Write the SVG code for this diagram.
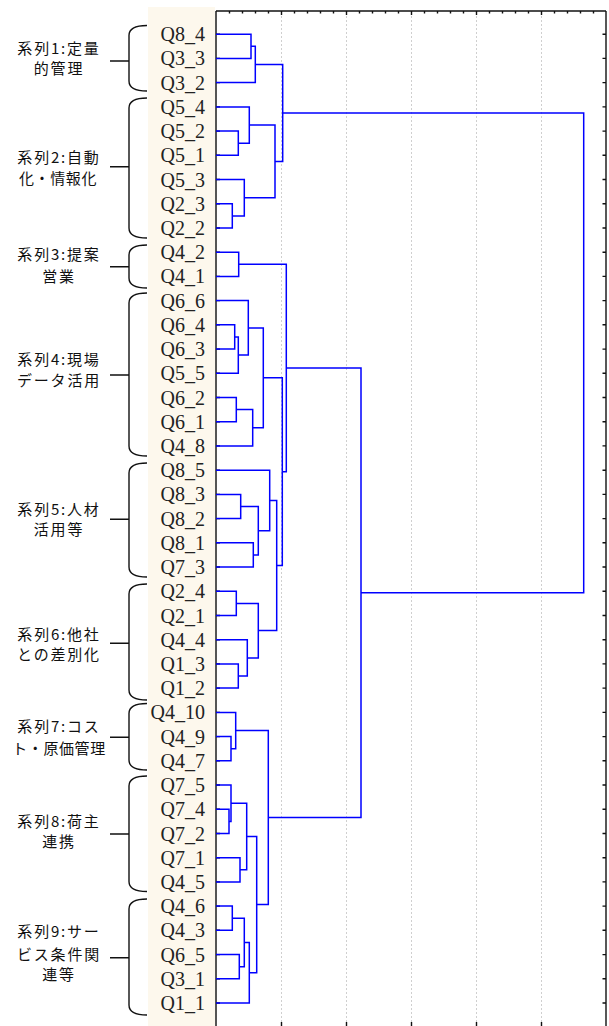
<svg xmlns="http://www.w3.org/2000/svg" width="609" height="1026" viewBox="0 0 609 1026">
<style>
.leaf{font-family:"Liberation Serif","Times New Roman",serif;font-size:20px;fill:#222;text-anchor:end}
.lab{font-family:"Noto Sans CJK JP","Noto Sans",sans-serif;font-size:15px;letter-spacing:1.8px;fill:#111;text-anchor:middle}
.tight{letter-spacing:0.6px}
.brace{fill:none;stroke:#111;stroke-width:1.4}
.den path{fill:none;stroke:#0000ff;stroke-width:1.5}
.grid{stroke:#cfcfcf;stroke-width:1;stroke-dasharray:2 2}
.ax{stroke:#111;stroke-width:1.4;fill:none}
</style>
<rect x="0" y="0" width="609" height="1026" fill="#ffffff"/>
<rect x="148" y="7" width="67" height="1019" fill="#fdf8ed"/>

<g id="grid">
<line class="grid" x1="281.5" y1="12" x2="281.5" y2="1026"/>
<line class="grid" x1="346.5" y1="12" x2="346.5" y2="1026"/>
<line class="grid" x1="411.5" y1="12" x2="411.5" y2="1026"/>
<line class="grid" x1="476.5" y1="12" x2="476.5" y2="1026"/>
<line class="grid" x1="541.5" y1="12" x2="541.5" y2="1026"/>
</g>

<g id="axes">
<line x1="216" y1="11" x2="216" y2="1026" stroke="#555" stroke-width="2"/>
<line class="ax" x1="216" y1="11" x2="606" y2="11"/>
<line class="ax" x1="606" y1="11" x2="606" y2="1026"/>
<path class="ax" stroke-width="1" d="M229.5,11v2.5M242.5,11v2.5M255.5,11v2.5M268.5,11v2.5M281.5,11v4M294.5,11v2.5M307.5,11v2.5M320.5,11v2.5M333.5,11v2.5M346.5,11v4M359.5,11v2.5M372.5,11v2.5M385.5,11v2.5M398.5,11v2.5M411.5,11v4M424.5,11v2.5M437.5,11v2.5M450.5,11v2.5M463.5,11v2.5M476.5,11v4M489.5,11v2.5M502.5,11v2.5M515.5,11v2.5M528.5,11v2.5M541.5,11v4M554.5,11v2.5M567.5,11v2.5M580.5,11v2.5M593.5,11v2.5"/>
<path class="ax" stroke-width="1" d="M281.5,1026v-4M346.5,1026v-4M411.5,1026v-4M476.5,1026v-4M541.5,1026v-4"/>
<path class="ax" stroke-width="1.2" d="M216,34.2h4M216,58.4h4M216,82.6h4M216,106.9h4M216,131.1h4M216,155.3h4M216,179.5h4M216,203.7h4M216,228h4M216,252.2h4M216,276.4h4M216,300.6h4M216,324.8h4M216,349.1h4M216,373.3h4M216,397.5h4M216,421.7h4M216,445.9h4M216,470.2h4M216,494.4h4M216,518.6h4M216,542.8h4M216,567h4M216,591.3h4M216,615.5h4M216,639.7h4M216,663.9h4M216,688.1h4M216,712.4h4M216,736.6h4M216,760.8h4M216,785h4M216,809.2h4M216,833.5h4M216,857.7h4M216,881.9h4M216,906.1h4M216,930.3h4M216,954.6h4M216,978.8h4M216,1003h4"/>
<path class="ax" stroke-width="1.2" d="M606,34.2h-3.5M606,58.4h-3.5M606,82.6h-3.5M606,106.9h-3.5M606,131.1h-3.5M606,155.3h-3.5M606,179.5h-3.5M606,203.7h-3.5M606,228h-3.5M606,252.2h-3.5M606,276.4h-3.5M606,300.6h-3.5M606,324.8h-3.5M606,349.1h-3.5M606,373.3h-3.5M606,397.5h-3.5M606,421.7h-3.5M606,445.9h-3.5M606,470.2h-3.5M606,494.4h-3.5M606,518.6h-3.5M606,542.8h-3.5M606,567h-3.5M606,591.3h-3.5M606,615.5h-3.5M606,639.7h-3.5M606,663.9h-3.5M606,688.1h-3.5M606,712.4h-3.5M606,736.6h-3.5M606,760.8h-3.5M606,785h-3.5M606,809.2h-3.5M606,833.5h-3.5M606,857.7h-3.5M606,881.9h-3.5M606,906.1h-3.5M606,930.3h-3.5M606,954.6h-3.5M606,978.8h-3.5M606,1003h-3.5"/>
</g>

<g id="connectors" class="den">
<path d="M216,34.2H251V58.4H216"/>
<path d="M251,46.3H255.3V82.6H216"/>
<path d="M216,131.1H238.3V155.3H216"/>
<path d="M216,106.9H249.3V143.2H238.3"/>
<path d="M216,203.7H232.3V228H216"/>
<path d="M216,179.5H244.3V215.9H232.3"/>
<path d="M249.3,125H275V197.7H244.3"/>
<path d="M255.3,64.5H282.7V161.4H275"/>
<path d="M216,252.2H238.7V276.4H216"/>
<path d="M216,324.8H234.7V349.1H216"/>
<path d="M234.7,337H238.3V373.3H216"/>
<path d="M216,300.6H248.3V355.1H238.3"/>
<path d="M216,397.5H236.3V421.7H216"/>
<path d="M236.3,409.6H252.7V445.9H216"/>
<path d="M248.3,327.9H263.3V427.8H252.7"/>
<path d="M216,494.4H240.7V518.6H216"/>
<path d="M216,542.8H253.3V567H216"/>
<path d="M240.7,506.5H258.3V554.9H253.3"/>
<path d="M216,470.2H269.7V530.7H258.3"/>
<path d="M216,591.3H236.3V615.5H216"/>
<path d="M216,663.9H238.3V688.1H216"/>
<path d="M216,639.7H247.3V676H238.3"/>
<path d="M236.3,603.4H258.3V657.9H247.3"/>
<path d="M269.7,500.4H276.7V630.6H258.3"/>
<path d="M263.3,377.8H282.3V565.5H276.7"/>
<path d="M238.7,264.3H286.3V471.7H282.3"/>
<path d="M216,736.6H231V760.8H216"/>
<path d="M216,712.4H235.7V748.7H231"/>
<path d="M216,809.2H229V833.5H216"/>
<path d="M216,785H231V821.4H229"/>
<path d="M216,857.7H240V881.9H216"/>
<path d="M231,803.2H246.7V869.8H240"/>
<path d="M216,906.1H232.3V930.3H216"/>
<path d="M216,954.6H239.3V978.8H216"/>
<path d="M232.3,918.2H244.3V966.7H239.3"/>
<path d="M244.3,942.5H249.3V1003H216"/>
<path d="M246.7,836.5H256.7V972.7H249.3"/>
<path d="M235.7,730.5H268.3V904.6H256.7"/>
<path d="M286.3,368H361V817.6H268.3"/>
<path d="M282.7,112.9H583.7V592.8H361"/>
</g>

<g id="leaves">
<g id="leaf-Q8_4"><text class="leaf" x="205" y="41.2">Q8_4</text></g>
<g id="leaf-Q3_3"><text class="leaf" x="205" y="65.4">Q3_3</text></g>
<g id="leaf-Q3_2"><text class="leaf" x="205" y="89.6">Q3_2</text></g>
<g id="leaf-Q5_4"><text class="leaf" x="205" y="113.9">Q5_4</text></g>
<g id="leaf-Q5_2"><text class="leaf" x="205" y="138.1">Q5_2</text></g>
<g id="leaf-Q5_1"><text class="leaf" x="205" y="162.3">Q5_1</text></g>
<g id="leaf-Q5_3"><text class="leaf" x="205" y="186.5">Q5_3</text></g>
<g id="leaf-Q2_3"><text class="leaf" x="205" y="210.7">Q2_3</text></g>
<g id="leaf-Q2_2"><text class="leaf" x="205" y="235">Q2_2</text></g>
<g id="leaf-Q4_2"><text class="leaf" x="205" y="259.2">Q4_2</text></g>
<g id="leaf-Q4_1"><text class="leaf" x="205" y="283.4">Q4_1</text></g>
<g id="leaf-Q6_6"><text class="leaf" x="205" y="307.6">Q6_6</text></g>
<g id="leaf-Q6_4"><text class="leaf" x="205" y="331.8">Q6_4</text></g>
<g id="leaf-Q6_3"><text class="leaf" x="205" y="356.1">Q6_3</text></g>
<g id="leaf-Q5_5"><text class="leaf" x="205" y="380.3">Q5_5</text></g>
<g id="leaf-Q6_2"><text class="leaf" x="205" y="404.5">Q6_2</text></g>
<g id="leaf-Q6_1"><text class="leaf" x="205" y="428.7">Q6_1</text></g>
<g id="leaf-Q4_8"><text class="leaf" x="205" y="452.9">Q4_8</text></g>
<g id="leaf-Q8_5"><text class="leaf" x="205" y="477.2">Q8_5</text></g>
<g id="leaf-Q8_3"><text class="leaf" x="205" y="501.4">Q8_3</text></g>
<g id="leaf-Q8_2"><text class="leaf" x="205" y="525.6">Q8_2</text></g>
<g id="leaf-Q8_1"><text class="leaf" x="205" y="549.8">Q8_1</text></g>
<g id="leaf-Q7_3"><text class="leaf" x="205" y="574">Q7_3</text></g>
<g id="leaf-Q2_4"><text class="leaf" x="205" y="598.3">Q2_4</text></g>
<g id="leaf-Q2_1"><text class="leaf" x="205" y="622.5">Q2_1</text></g>
<g id="leaf-Q4_4"><text class="leaf" x="205" y="646.7">Q4_4</text></g>
<g id="leaf-Q1_3"><text class="leaf" x="205" y="670.9">Q1_3</text></g>
<g id="leaf-Q1_2"><text class="leaf" x="205" y="695.1">Q1_2</text></g>
<g id="leaf-Q4_10"><text class="leaf" x="205" y="719.4">Q4_10</text></g>
<g id="leaf-Q4_9"><text class="leaf" x="205" y="743.6">Q4_9</text></g>
<g id="leaf-Q4_7"><text class="leaf" x="205" y="767.8">Q4_7</text></g>
<g id="leaf-Q7_5"><text class="leaf" x="205" y="792">Q7_5</text></g>
<g id="leaf-Q7_4"><text class="leaf" x="205" y="816.2">Q7_4</text></g>
<g id="leaf-Q7_2"><text class="leaf" x="205" y="840.5">Q7_2</text></g>
<g id="leaf-Q7_1"><text class="leaf" x="205" y="864.7">Q7_1</text></g>
<g id="leaf-Q4_5"><text class="leaf" x="205" y="888.9">Q4_5</text></g>
<g id="leaf-Q4_6"><text class="leaf" x="205" y="913.1">Q4_6</text></g>
<g id="leaf-Q4_3"><text class="leaf" x="205" y="937.3">Q4_3</text></g>
<g id="leaf-Q6_5"><text class="leaf" x="205" y="961.6">Q6_5</text></g>
<g id="leaf-Q3_1"><text class="leaf" x="205" y="985.8">Q3_1</text></g>
<g id="leaf-Q1_1"><text class="leaf" x="205" y="1010">Q1_1</text></g>
</g>

<g id="series1">
<path class="brace" d="M147,25.5C136,25.5 129,28.5 129,35.5V81C129,88 136,91 147,91M110,61H129"/>
<text class="lab" x="59" y="53.8">系列1:定量</text>
<text class="lab" x="59" y="73.8">的管理</text>
</g>
<g id="series2">
<path class="brace" d="M147,98C136,98 129,101 129,108V228C129,235 136,238 147,238M110,166.7H129"/>
<text class="lab" x="59" y="163">系列2:自動</text>
<text class="lab tight" x="58" y="183.8">化・情報化</text>
</g>
<g id="series3">
<path class="brace" d="M147,245C136,245 129,248 129,255V278C129,285 136,288 147,288M110,266.7H129"/>
<text class="lab" x="59" y="259.5">系列3:提案</text>
<text class="lab" x="59" y="281.5">営業</text>
</g>
<g id="series4">
<path class="brace" d="M147,293C136,293 129,296 129,303V446C129,453 136,456 147,456M110,375H129"/>
<text class="lab" x="59" y="364.5">系列4:現場</text>
<text class="lab" x="59" y="385.5">データ活用</text>
</g>
<g id="series5">
<path class="brace" d="M147,463C136,463 129,466 129,473V567C129,574 136,577 147,577M110,519.3H129"/>
<text class="lab" x="59" y="514.5">系列5:人材</text>
<text class="lab" x="59" y="534.5">活用等</text>
</g>
<g id="series6">
<path class="brace" d="M147,584C136,584 129,587 129,594V690C129,697 136,700 147,700M110,643.3H129"/>
<text class="lab" x="59" y="639.5">系列6:他社</text>
<text class="lab" x="59" y="659.5">との差別化</text>
</g>
<g id="series7">
<path class="brace" d="M147,703.5C136,703.5 129,706.5 129,713.5V760C129,767 136,770 147,770M110,737.3H129"/>
<text class="lab" x="59" y="731.5">系列7:コス</text>
<text class="lab tight" x="59" y="753.5">ト・原価管理</text>
</g>
<g id="series8">
<path class="brace" d="M147,776C136,776 129,779 129,786V881.5C129,888.5 136,891.5 147,891.5M110,834H129"/>
<text class="lab" x="59" y="826.5">系列8:荷主</text>
<text class="lab" x="59" y="847.2">連携</text>
</g>
<g id="series9">
<path class="brace" d="M147,899C136,899 129,902 129,909V1005C129,1012 136,1015 147,1015M110,957.7H129"/>
<text class="lab" x="59" y="936.5">系列9:サー</text>
<text class="lab" x="59" y="959.5">ビス条件関</text>
<text class="lab" x="59" y="979.5">連等</text>
</g>
</svg>
